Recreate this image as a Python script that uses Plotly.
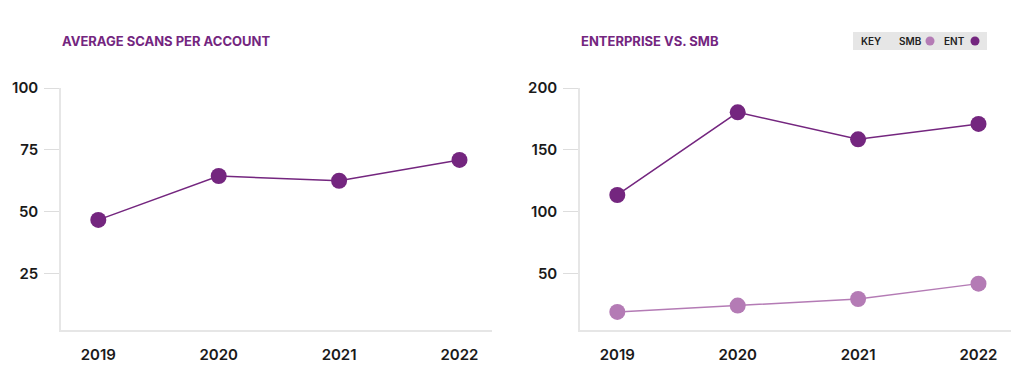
import plotly.graph_objects as go

years = ["2019", "2020", "2021", "2022"]
avg_scans = [46.8, 64.5, 62.6, 71.0]
ent_scans = [113.7, 180.4, 158.6, 171.0]
smb_scans = [19.4, 24.5, 29.8, 42.2]
left_ticks = [25, 50, 75, 100]
right_ticks = [50, 100, 150, 200]

DARK = "#74267F"
LIGHT = "#B47BB5"
FONT = "Inter"
xpos = list(range(len(years)))

fig = go.Figure()
fig.add_trace(go.Scatter(x=xpos, y=avg_scans, mode="lines+markers",
                         line=dict(color=DARK, width=1.5),
                         marker=dict(size=16, color=DARK), xaxis="x", yaxis="y"))
fig.add_trace(go.Scatter(x=xpos, y=smb_scans, mode="lines+markers",
                         line=dict(color=LIGHT, width=1.5),
                         marker=dict(size=16, color=LIGHT), xaxis="x2", yaxis="y2"))
fig.add_trace(go.Scatter(x=xpos, y=ent_scans, mode="lines+markers",
                         line=dict(color=DARK, width=1.5),
                         marker=dict(size=16, color=DARK), xaxis="x2", yaxis="y2"))

ydom = [51 / 381, 293 / 381]
xax = dict(range=[-0.31, 3.27], tickvals=xpos, ticktext=years, showgrid=False,
           zeroline=False, showline=True, linecolor="#E6E6E6", linewidth=1.5,
           ticks="", ticklabelstandoff=10, automargin=False,
           tickfont=dict(family=FONT, size=15, color="#1a1a1a", weight=600))
yax = dict(showgrid=False, zeroline=False, showline=True, linecolor="#E6E6E6",
           linewidth=1.5, ticks="outside", ticklen=15, tickcolor="#DDDDDD",
           tickwidth=1, ticklabelstandoff=3, automargin=False,
           tickfont=dict(family=FONT, size=15, color="#1a1a1a", weight=600),
           domain=ydom)

fig.update_layout(
    template="none",
    width=1024, height=381, margin=dict(l=0, r=0, t=0, b=0, pad=0),
    paper_bgcolor="white", plot_bgcolor="white", showlegend=False,
    xaxis=dict(xax, domain=[61 / 1024, 492 / 1024], anchor="y"),
    xaxis2=dict(xax, domain=[580 / 1024, 1011 / 1024], anchor="y2"),
    yaxis=dict(yax, range=[2.4, 100], tickvals=left_ticks, anchor="x"),
    yaxis2=dict(yax, range=[4.8, 200], tickvals=right_ticks, anchor="x2"),
)

title_font = dict(family=FONT, size=13, color=DARK, weight=700)
fig.add_annotation(text="AVERAGE SCANS PER ACCOUNT", x=60 / 1024, y=1 - 41 / 381,
                   xref="paper", yref="paper", xanchor="left", yanchor="middle",
                   showarrow=False, font=title_font)
fig.add_annotation(text="ENTERPRISE VS. SMB", x=579 / 1024, y=1 - 41 / 381,
                   xref="paper", yref="paper", xanchor="left", yanchor="middle",
                   showarrow=False, font=title_font)

# legend key box
fig.add_shape(type="rect", xref="paper", yref="paper",
              x0=853 / 1024, x1=987 / 1024, y0=1 - 50 / 381, y1=1 - 32 / 381,
              fillcolor="#E6E6E6", line=dict(width=0), layer="below")
key_font = dict(family=FONT, size=10, color="#222222", weight=600)
for txt, xc in [("KEY", 871), ("SMB", 910), ("ENT", 954)]:
    fig.add_annotation(text=txt, x=xc / 1024, y=1 - 41 / 381, xref="paper", yref="paper",
                       xanchor="center", yanchor="middle", showarrow=False, font=key_font)
for xc, col in [(930, LIGHT), (975, DARK)]:
    fig.add_shape(type="circle", xref="paper", yref="paper",
                  x0=(xc - 4.5) / 1024, x1=(xc + 4.5) / 1024,
                  y0=1 - 45.5 / 381, y1=1 - 36.5 / 381,
                  fillcolor=col, line=dict(width=0))

fig.write_html("out.html", config={"displayModeBar": False},
               post_script="document.body.style.margin='0';document.body.style.overflow='hidden';")
